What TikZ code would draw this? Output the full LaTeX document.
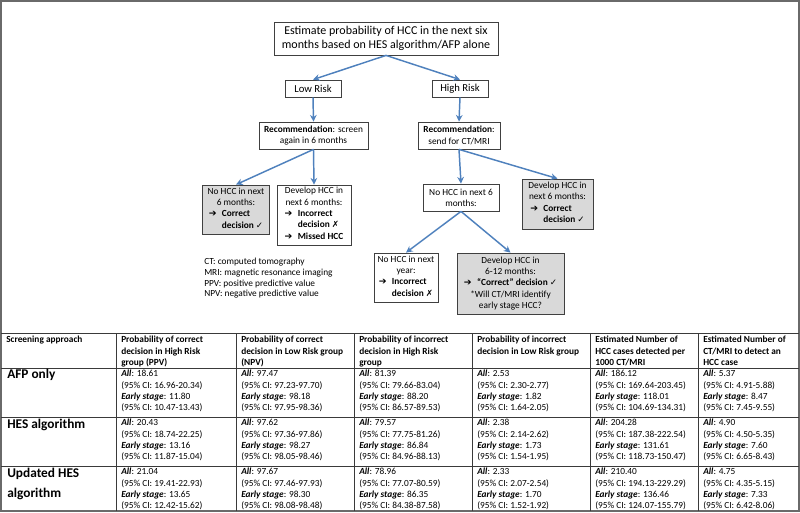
\documentclass[tikz,border=0pt]{standalone}
\usepackage{fontspec}
\setmainfont{Carlito}
\newfontfamily\symf{DejaVu Sans}
\usetikzlibrary{arrows.meta}
\definecolor{arrowblue}{HTML}{4F81BD}
\definecolor{boxgray}{HTML}{D9D9D9}
\definecolor{framegray}{HTML}{6A6A6A}
\definecolor{gridgray}{HTML}{3A3A3A}
\newcommand{\arr}{{\symf\fontsize{7}{7}\selectfont\bfseries ➔}}
\newcommand{\chk}{{\symf\fontsize{6.5}{6.5}\selectfont ✓}}
\newcommand{\crs}{{\symf\fontsize{6.5}{6.5}\selectfont ✗}}
\newcommand{\cellv}[4]{\textbf{\textit{All}}: #1\\(95\% CI: #2)\\\textbf{\textit{Early stage}}: #3\\(95\% CI: #4)}
\tikzset{
  flowbox/.style={draw=black!75, line width=0.6pt, fill=white, font=\fontsize{7}{8.5}\selectfont, align=center, inner sep=1pt},
  graybox/.style={flowbox, fill=boxgray},
  conn/.style={draw=arrowblue, line width=1.1pt, -{Stealth[length=5pt,width=5pt]}},
  cell/.style={anchor=north west, inner sep=0pt, align=left, font=\fontsize{7}{8.5}\selectfont},
  hcell/.style={cell, font=\fontsize{7}{8.5}\selectfont\bfseries},
  rowlab/.style={anchor=north west, inner sep=0pt, align=left, font=\fontsize{10}{15}\selectfont\bfseries},
  gridline/.style={draw=gridgray, line width=0.7pt}
}
\begin{document}
\begin{tikzpicture}[x=0.75pt,y=-0.75pt]
\useasboundingbox (0,0) rectangle (800,512);
% outer frame
\draw[framegray, line width=1.2pt] (1,1) rectangle (799,511);
% flowchart
\node[flowbox, font=\fontsize{9}{10.5}\selectfont, minimum width=168pt, minimum height=24.75pt] (top) at (386,38.5) {Estimate probability of HCC in the next six\\months based on HES algorithm/AFP alone};
\node[flowbox, font=\fontsize{8}{9}\selectfont, minimum width=42pt, minimum height=12.75pt] (low) at (313,88.5) {Low Risk};
\node[flowbox, font=\fontsize{8}{9}\selectfont, minimum width=42pt, minimum height=12.75pt] (high) at (460,88.5) {High Risk};
\node[flowbox, minimum width=81.75pt, minimum height=20.25pt] (recL) at (313.5,135.5) {\textbf{Recommendation}: screen\\again in 6 months};
\node[flowbox, minimum width=61.5pt, minimum height=20.25pt] (recR) at (459,135.5) {\textbf{Recommendation}:\\send for CT/MRI};
\node[graybox, minimum width=50pt, minimum height=36.75pt] (noL) at (236,209.5) {No HCC in next\\6 months:\\\begin{tabular}[t]{@{}l@{\hspace{4pt}}l@{}}\arr & \textbf{Correct}\\ & \textbf{decision \chk}\end{tabular}};
\node[flowbox, minimum width=55.5pt, minimum height=45pt] (devL) at (314,215) {Develop HCC in\\next 6 months:\\\begin{tabular}[t]{@{}l@{\hspace{4pt}}l@{}}\arr & \textbf{Incorrect}\\ & \textbf{decision \crs}\\\arr & \textbf{Missed HCC}\end{tabular}};
\node[flowbox, minimum width=57pt, minimum height=20.25pt] (noR) at (461,197.5) {No HCC in next 6\\months:};
\node[graybox, minimum width=53.25pt, minimum height=37.5pt] (devR) at (557.5,204) {Develop HCC in\\next 6 months:\\\begin{tabular}[t]{@{}l@{\hspace{4pt}}l@{}}\arr & \textbf{Correct}\\ & \textbf{decision \chk}\end{tabular}};
\node[flowbox, minimum width=48pt, minimum height=36.75pt] (noY) at (406,277.5) {No HCC in next\\year:\\\begin{tabular}[t]{@{}l@{\hspace{4pt}}l@{}}\arr & \textbf{Incorrect}\\ & \textbf{decision \crs}\end{tabular}};
\node[graybox, minimum width=80.25pt, minimum height=45.75pt] (dev612) at (510.5,283.5) {Develop HCC in\\6-12 months:\\\arr\hspace{4pt}\textbf{``Correct'' decision \chk}\\*Will CT/MRI identify\\early stage HCC?};
\node[cell, font=\fontsize{7}{8}\selectfont] (abbr) at (204,258) {CT: computed tomography\\MRI: magnetic resonance imaging\\PPV: positive predictive value\\NPV: negative predictive value};
% connectors
\draw[conn] (top.south) -- (low.north);
\draw[conn] (top.south) -- (high.north);
\draw[conn] (low.south) -- (recL.north);
\draw[conn] (high.south) -- (recR.north);
\draw[conn] (recL.south) -- (noL.north);
\draw[conn] (recL.south) -- (devL.north);
\draw[conn] (recR.south) -- (noR.north);
\draw[conn] (recR.south) -- (devR.north);
\draw[conn] (noR.south) -- (noY.north);
\draw[conn] (noR.south) -- (dev612.north);
% table grid
\foreach \yy in {333,368,417,466} \draw[gridline] (1,\yy) -- (799,\yy);
\foreach \xx in {116,236,354,472,590,698} \draw[gridline] (\xx,333) -- (\xx,511);
% header
\node[hcell] (h1) at (6,336) {Screening approach};
\node[hcell] (h2) at (121,336) {Probability of correct\\decision in High Risk\\group (PPV)};
\node[hcell] (h3) at (241,336) {Probability of correct\\decision in Low Risk group\\(NPV)};
\node[hcell] (h4) at (359,336) {Probability of incorrect\\decision in High Risk\\group};
\node[hcell] (h5) at (477,336) {Probability of incorrect\\decision in Low Risk group};
\node[hcell] (h6) at (595,336) {Estimated Number of\\HCC cases detected per\\1000 CT/MRI};
\node[hcell] (h7) at (703,336) {Estimated Number of\\CT/MRI to detect an\\HCC case};
% AFP row
\node[rowlab] (a1) at (7,369) {AFP only};
\node[cell] (a2) at (121,370) {\cellv{18.61}{16.96-20.34}{11.80}{10.47-13.43}};
\node[cell] (a3) at (241,370) {\cellv{97.47}{97.23-97.70}{98.18}{97.95-98.36}};
\node[cell] (a4) at (359,370) {\cellv{81.39}{79.66-83.04}{88.20}{86.57-89.53}};
\node[cell] (a5) at (477,370) {\cellv{2.53}{2.30-2.77}{1.82}{1.64-2.05}};
\node[cell] (a6) at (595,370) {\cellv{186.12}{169.64-203.45}{118.01}{104.69-134.31}};
\node[cell] (a7) at (703,370) {\cellv{5.37}{4.91-5.88}{8.47}{7.45-9.55}};
% HES row
\node[rowlab] (b1) at (7,419) {HES algorithm};
\node[cell] (b2) at (121,419) {\cellv{20.43}{18.74-22.25}{13.16}{11.87-15.04}};
\node[cell] (b3) at (241,419) {\cellv{97.62}{97.36-97.86}{98.27}{98.05-98.46}};
\node[cell] (b4) at (359,419) {\cellv{79.57}{77.75-81.26}{86.84}{84.96-88.13}};
\node[cell] (b5) at (477,419) {\cellv{2.38}{2.14-2.62}{1.73}{1.54-1.95}};
\node[cell] (b6) at (595,419) {\cellv{204.28}{187.38-222.54}{131.61}{118.73-150.47}};
\node[cell] (b7) at (703,419) {\cellv{4.90}{4.50-5.35}{7.60}{6.65-8.43}};
% Updated row
\node[rowlab] (c1) at (7,468) {Updated HES\\algorithm};
\node[cell] (c2) at (121,468) {\cellv{21.04}{19.41-22.93}{13.65}{12.42-15.62}};
\node[cell] (c3) at (241,468) {\cellv{97.67}{97.46-97.93}{98.30}{98.08-98.48}};
\node[cell] (c4) at (359,468) {\cellv{78.96}{77.07-80.59}{86.35}{84.38-87.58}};
\node[cell] (c5) at (477,468) {\cellv{2.33}{2.07-2.54}{1.70}{1.52-1.92}};
\node[cell] (c6) at (595,468) {\cellv{210.40}{194.13-229.29}{136.46}{124.07-155.79}};
\node[cell] (c7) at (703,468) {\cellv{4.75}{4.35-5.15}{7.33}{6.42-8.06}};
\end{tikzpicture}
\end{document}
